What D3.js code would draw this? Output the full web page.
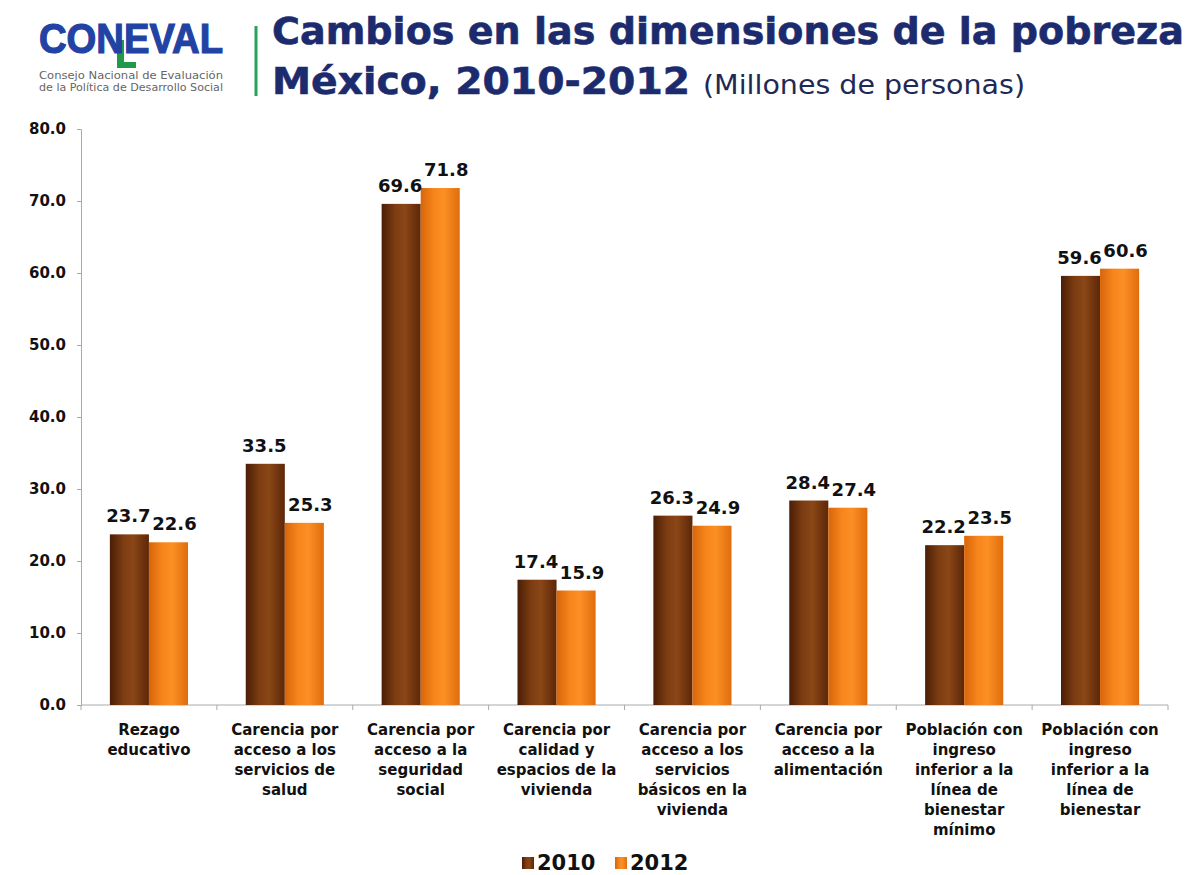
<!DOCTYPE html>
<html>
<head>
<meta charset="utf-8">
<script src="https://cdn.jsdelivr.net/npm/d3@7"></script>
<style>
  body { margin: 0; background: #fff; }
  svg { display: block; font-family: "DejaVu Sans", Verdana, sans-serif; }
</style>
</head>
<body>
<svg id="chart" width="1191" height="875"></svg>
<script>
const categories = [
    ['Rezago', 'educativo'],
    ['Carencia por', 'acceso a los', 'servicios de', 'salud'],
    ['Carencia por', 'acceso a la', 'seguridad', 'social'],
    ['Carencia por', 'calidad y', 'espacios de la', 'vivienda'],
    ['Carencia por', 'acceso a los', 'servicios', 'básicos en la', 'vivienda'],
    ['Carencia por', 'acceso a la', 'alimentación'],
    ['Población con', 'ingreso', 'inferior a la', 'línea de', 'bienestar', 'mínimo'],
    ['Población con', 'ingreso', 'inferior a la', 'línea de', 'bienestar']]
const years = ['2010', '2012']
const values2010 = [23.7, 33.5, 69.6, 17.4, 26.3, 28.4, 22.2, 59.6]
const values2012 = [22.6, 25.3, 71.8, 15.9, 24.9, 27.4, 23.5, 60.6]
const yTicks = [0, 10, 20, 30, 40, 50, 60, 70, 80]

const svg = d3.select('#chart')
const plotLeft = 81, plotRight = 1168, plotTop = 129, plotBottom = 705

// gradients for the shaded bars
const defs = svg.append('defs')
const shades = {
    '2010': ['#4a1e06', '#7d3d12', '#8a4616', '#5c2708'],
    '2012': ['#d8650a', '#f7861c', '#fb8f25', '#e06d0c']
}
years.forEach(yr => {
    const g = defs.append('linearGradient').attr('id', 'g' + yr)
        .attr('x1', 0).attr('x2', 1).attr('y1', 0).attr('y2', 0)
    shades[yr].forEach((c, i) => g.append('stop')
        .attr('offset', [0, 0.35, 0.6, 1][i]).attr('stop-color', c))
})

const idx = d3.range(categories.length)
const x0 = d3.scaleBand().domain(idx).range([plotLeft, plotRight])
    .paddingInner(0.425).paddingOuter(0.2125)
const x1 = d3.scaleBand().domain(years).range([0, x0.bandwidth()])
const y = d3.scaleLinear().domain([0, 80]).range([plotBottom, plotTop])
const color = d3.scaleOrdinal(years, ['url(#g2010)', 'url(#g2012)'])
const labelShift = d3.scaleOrdinal(years, [-1, 6])

// header: logo
const logo = svg.append('g')
logo.append('path')
    .attr('d', 'M117,40 h7 v22 h12 v6 h-19 z')
    .attr('fill', '#1f9a4a')
logo.append('text')
    .attr('x', 39).attr('y', 53)
    .attr('textLength', 184).attr('lengthAdjust', 'spacingAndGlyphs')
    .style('font-family', '"Liberation Sans", Arial, sans-serif')
    .style('font-weight', 'bold').style('font-size', '42px')
    .attr('fill', '#2242a4').attr('stroke', '#2242a4').attr('stroke-width', 1.2)
    .text('CONEVAL')
logo.append('text').attr('x', 39).attr('y', 79)
    .attr('textLength', 184).attr('lengthAdjust', 'spacingAndGlyphs')
    .style('font-size', '10px').attr('fill', '#666')
    .text('Consejo Nacional de Evaluación')
logo.append('text').attr('x', 39).attr('y', 91)
    .attr('textLength', 184).attr('lengthAdjust', 'spacingAndGlyphs')
    .style('font-size', '10px').attr('fill', '#666')
    .text('de la Política de Desarrollo Social')

svg.append('line')
    .attr('x1', 256).attr('x2', 256).attr('y1', 26).attr('y2', 96)
    .attr('stroke', '#2aa05a').attr('stroke-width', 3)

const title = svg.append('g').attr('fill', '#1c2b6e')
title.append('text')
    .attr('x', 272).attr('y', 44)
    .attr('textLength', 912).attr('lengthAdjust', 'spacingAndGlyphs')
    .style('font-weight', 'bold').style('font-size', '38px')
    .attr('stroke', '#1c2b6e').attr('stroke-width', 0.6)
    .text('Cambios en las dimensiones de la pobreza')
title.append('text')
    .attr('x', 272).attr('y', 94)
    .attr('textLength', 418).attr('lengthAdjust', 'spacingAndGlyphs')
    .style('font-weight', 'bold').style('font-size', '38px')
    .attr('stroke', '#1c2b6e').attr('stroke-width', 0.6)
    .text('México, 2010-2012')
title.append('text')
    .attr('x', 703).attr('y', 94)
    .attr('textLength', 322).attr('lengthAdjust', 'spacingAndGlyphs')
    .style('font-size', '26px').attr('fill', '#1e2a55')
    .text('(Millones de personas)')

// y axis
const yAxis = svg.append('g')
    .attr('transform', `translate(${plotLeft},0)`)
    .call(d3.axisLeft(y).tickValues(yTicks).tickFormat(d3.format('.1f'))
        .tickSize(4).tickPadding(11))
yAxis.select('.domain').attr('stroke', '#aaa')
yAxis.selectAll('.tick line').attr('stroke', '#aaa')
yAxis.selectAll('.tick text')
    .style('font-size', '15px').style('font-weight', 'bold')
    .style('font-family', '"DejaVu Sans", Verdana, sans-serif')
    .attr('fill', '#111')

// x axis line with ticks between the groups
const xAxis = svg.append('g')
xAxis.append('line')
    .attr('x1', plotLeft).attr('x2', plotRight)
    .attr('y1', plotBottom).attr('y2', plotBottom)
    .attr('stroke', '#aaa')
xAxis.selectAll('.sep')
    .data(d3.range(categories.length + 1))
    .enter()
    .append('line')
    .attr('class', 'sep')
    .attr('x1', i => plotLeft + i * x0.step())
    .attr('x2', i => plotLeft + i * x0.step())
    .attr('y1', plotBottom).attr('y2', plotBottom + 5)
    .attr('stroke', '#aaa')

// category labels
const catLabels = svg.append('g')
    .selectAll('text')
    .data(categories)
    .enter()
    .append('text')
    .attr('text-anchor', 'middle')
    .attr('x', (d, i) => x0(i) + x0.bandwidth() / 2)
    .attr('y', 735)
    .style('font-size', '15px').style('font-weight', 'bold')
    .attr('fill', '#111')
catLabels.selectAll('tspan')
    .data(d => d)
    .enter()
    .append('tspan')
    .attr('x', function () { return this.parentNode.getAttribute('x') })
    .attr('dy', (d, i) => i === 0 ? 0 : 20)
    .text(d => d)

// bars
const rows = idx.map(i => ({i: i, vals: [
    {year: '2010', value: values2010[i]},
    {year: '2012', value: values2012[i]}]}))

const groups = svg.selectAll('.grp')
    .data(rows)
    .enter()
    .append('g')
    .attr('class', 'grp')
    .attr('transform', d => `translate(${x0(d.i)},0)`)

groups.selectAll('rect')
    .data(d => d.vals)
    .enter()
    .append('rect')
    .attr('x', d => x1(d.year))
    .attr('y', d => y(d.value))
    .attr('width', x1.bandwidth())
    .attr('height', d => plotBottom - y(d.value))
    .attr('fill', d => color(d.year))

groups.selectAll('.val')
    .data(d => d.vals)
    .enter()
    .append('text')
    .attr('class', 'val')
    .attr('text-anchor', 'middle')
    .attr('x', d => x1(d.year) + x1.bandwidth() / 2 + labelShift(d.year))
    .attr('y', d => y(d.value) - 12)
    .style('font-size', '18px').style('font-weight', 'bold')
    .attr('fill', '#111')
    .text(d => d3.format('.1f')(d.value))

// legend
const legend = svg.append('g')
    .selectAll('g')
    .data(years)
    .enter()
    .append('g')
    .attr('transform', (d, i) => `translate(${522 + i * 93},0)`)
legend.append('rect')
    .attr('x', 0).attr('y', 857).attr('width', 12).attr('height', 12)
    .attr('fill', d => color(d))
legend.append('text')
    .attr('x', 15).attr('y', 870)
    .style('font-size', '21px').style('font-weight', 'bold')
    .attr('fill', '#111')
    .text(d => d)
</script>
</body>
</html>
